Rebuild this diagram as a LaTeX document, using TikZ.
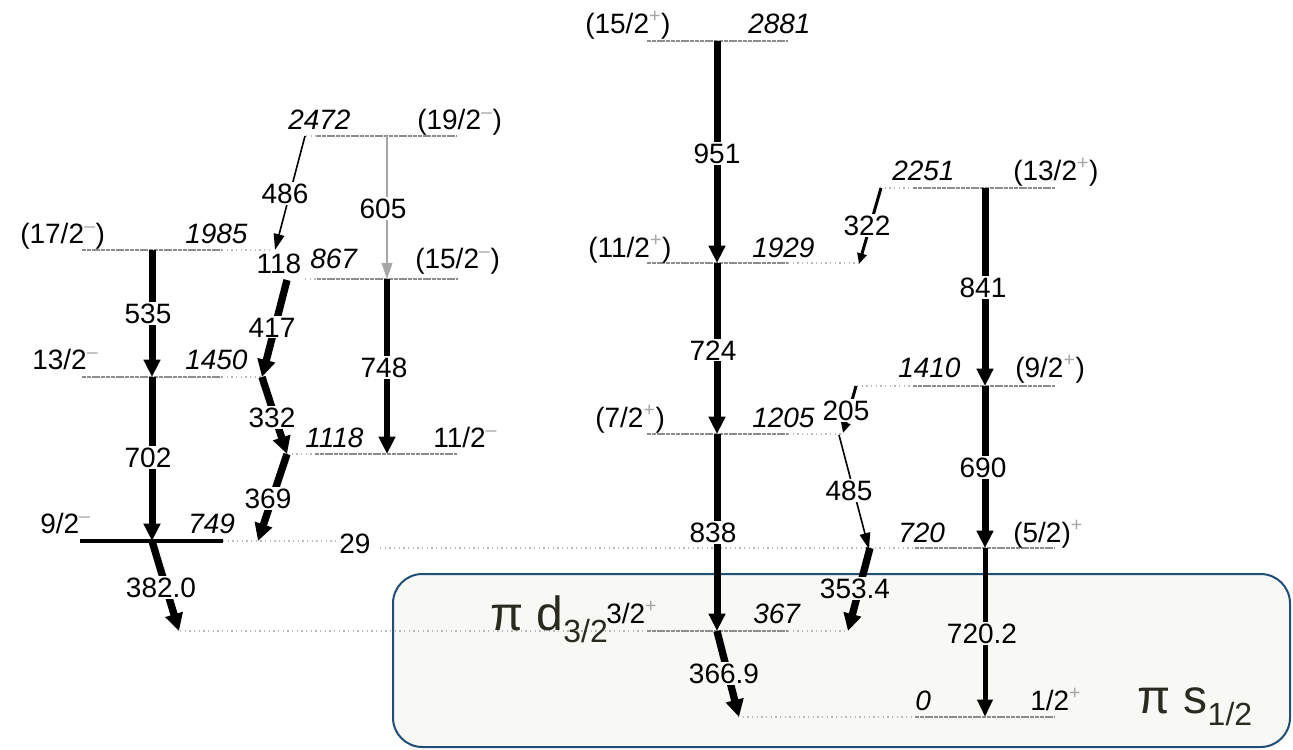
\documentclass[tikz,border=0pt]{standalone}
\usepackage{fontspec}
\setmainfont{Liberation Sans}
\usetikzlibrary{arrows.meta}
\definecolor{boxfill}{HTML}{F8F9F5}
\definecolor{boxline}{HTML}{1F4E79}
\definecolor{bigtxt}{HTML}{2A2A20}
\definecolor{lvl}{HTML}{8C8C8C}
\newcommand\plusup{\textsuperscript{\color{gray!70}+}}
\newcommand\minusup{\textsuperscript{\color{gray!70}–}}
\begin{document}
\begin{tikzpicture}[x=0.75pt,y=-0.75pt,
  every node/.style={font=\fontsize{21}{24}\selectfont, inner sep=0pt},
  lv/.style={draw=lvl, line width=2pt, dash pattern=on 3pt off 0.6pt},
  ext/.style={draw=gray!55, line width=1.2pt, dash pattern=on 0.9pt off 2.6pt},
  tr/.style={line width=5.25pt, -{Triangle[length=13pt,width=12pt]}},
  trs/.style={line width=5.5pt, -{Triangle[length=13pt,width=13pt]}},
  trm/.style={line width=3.75pt, -{Triangle[length=13pt,width=11pt]}},
  trn/.style={line width=2.25pt, -{Triangle[length=8pt,width=7pt]}},
  trt/.style={line width=1.2pt, -{Triangle[length=12pt,width=8pt]}},
  lab/.style={fill=white, inner sep=1pt, anchor=base},
  labb/.style={fill=boxfill, inner sep=1pt, anchor=base},
  en/.style={font=\fontsize{21}{24}\selectfont\itshape, anchor=base west},
  spn/.style={anchor=base west},
  big/.style={anchor=base west, text=bigtxt, font=\fontsize{36}{40}\selectfont},
]
\useasboundingbox (0,0) rectangle (1293,750);
% highlighted region
\draw[draw=boxline, fill=boxfill, line width=1.5pt, rounded corners=22pt] (393,574) rectangle (1290,747);

% levels
\draw[lv] (82,250) -- (222,250); \draw[ext] (222,250) -- (273,250);
\draw[lv] (82,377) -- (222,377); \draw[ext] (222,377) -- (262,377);
\draw[line width=3pt] (80,541) -- (223,541); \draw[ext] (223,541) -- (337,541);
\draw[ext] (306,136) -- (317,136); \draw[lv] (317,136) -- (457,136);
\draw[ext] (305,279) -- (317,279); \draw[lv] (317,279) -- (458,279);
\draw[ext] (287,454) -- (315,454); \draw[lv] (315,454) -- (457,454);
\draw[lv] (647,41) -- (788,41);
\draw[lv] (647,263) -- (788,263); \draw[ext] (788,263) -- (860,263);
\draw[lv] (647,434) -- (788,434); \draw[ext] (788,434) -- (842,434);
\draw[ext] (180,631) -- (647,631); \draw[lv] (647,631) -- (788,631); \draw[ext] (788,631) -- (848,631);
\draw[ext] (738,717) -- (915,717); \draw[lv] (915,717) -- (1055,717);
\draw[ext] (880,188) -- (913,188); \draw[lv] (913,188) -- (1055,188);
\draw[ext] (857,386) -- (913,386); \draw[lv] (913,386) -- (1055,386);
\draw[ext] (380,548) -- (915,548); \draw[lv] (915,548) -- (1055,548);

% transition end points
\coordinate (s1985) at (152,250);
\coordinate (s1450) at (152,377);
\coordinate (s749) at (152,541);
\coordinate (e382) at (179,631);
\coordinate (s2472a) at (305,136);
\coordinate (e1985) at (275,250);
\coordinate (s2472b) at (387,136);
\coordinate (s1867b) at (387,279);
\coordinate (s1118b) at (387,454);
\coordinate (s1867a) at (287,280);
\coordinate (s1450a) at (262,377);
\coordinate (s1118a) at (287,454);
\coordinate (s749a) at (258,541);
\coordinate (s2881) at (717,41);
\coordinate (s1929) at (717,263);
\coordinate (s1205) at (717,434);
\coordinate (s367) at (717,631);
\coordinate (e0) at (739,717);
\coordinate (s2251a) at (881,188);
\coordinate (e1929) at (859,264);
\coordinate (s1410a) at (856,386);
\coordinate (e1205) at (843,433);
\coordinate (s1205a) at (839,435);
\coordinate (e720a) at (869,549);
\coordinate (s720a) at (870,548);
\coordinate (e367a) at (848,631);
\coordinate (s2251) at (985,188);
\coordinate (s1410) at (985,386);
\coordinate (s720) at (985,548);
\coordinate (s0) at (985,717);

% transitions
\draw[tr] (s1985) -- (s1450);
\draw[tr] (s1450) -- (s749);
\draw[trs] (s749) -- (e382);
\draw[trt] (s2472a) -- (e1985);
\draw[trt, draw=gray!70, fill=gray!70] (s2472b) -- (s1867b);
\draw[tr, line width=5pt] (s1867b) -- (s1118b);
\draw[trs] (s1867a) -- (s1450a);
\draw[trs] (s1450a) -- (s1118a);
\draw[trs] (s1118a) -- (s749a);
\draw[tr] (s2881) -- (s1929);
\draw[tr] (s1929) -- (s1205);
\draw[tr] (s1205) -- (s367);
\draw[trs] (s367) -- (e0);
\draw[trn] (s2251a) -- (e1929);
\draw[trn] (s1410a) -- (e1205);
\draw[trt] (s1205a) -- (e720a);
\draw[trs] (s720a) -- (e367a);
\draw[tr] (s2251) -- (s1410);
\draw[tr] (s1410) -- (s720);
\draw[trm] (s720) -- (s0);

% transition energies
\node[lab] (l535) at (148,323) {535};
\node[lab] (l702) at (148,467) {702};
\node[lab] (l382) at (161,597) {382.0};
\node[lab] (l486) at (285,203) {486};
\node[lab] (l605) at (383,218) {605};
\node[lab] (l118) at (279,273) {118};
\node[lab] (l417) at (272,337) {417};
\node[lab] (l748) at (384,377) {748};
\node[lab] (l332) at (272,427) {332};
\node[lab] (l369) at (268,508) {369};
\node[lab] (l29) at (355,553) {29};
\node[lab] (l951) at (717,163) {951};
\node[lab] (l724) at (713,360) {724};
\node[lab] (l838) at (713,542) {838};
\node[lab] (l322) at (867,235) {322};
\node[lab] (l205) at (846,420) {205};
\node[lab] (l485) at (849,500) {485};
\node[lab] (l841) at (983,297) {841};
\node[lab] (l690) at (983,477) {690};
\node[labb] (l7202) at (982,643) {720.2};
\node[labb] (l3669) at (724,683) {366.9};
\node[labb] (l3534) at (855,598) {353.4};

% level energies
\node[en] (n2472) at (288,129) {2472};
\node[en] (n1985) at (185,243) {1985};
\node[en] (n1450) at (185,369) {1450};
\node[en] (n749) at (188,533) {749};
\node[en] (n867) at (310,268) {867};
\node[en] (n1118) at (305,447) {1118};
\node[en] (n2881) at (748,33) {2881};
\node[en] (n1929) at (752,257) {1929};
\node[en] (n1205) at (752,427) {1205};
\node[en] (n367) at (753,623) {367};
\node[en] (n2251) at (892,180) {2251};
\node[en] (n1410) at (898,377) {1410};
\node[en] (n720) at (898,542) {720};
\node[en] (n0) at (915,710) {0};

% spins
\node[spn] (j2472) at (417,129) {(19/2\minusup)};
\node[spn] (j1985) at (20,243) {(17/2\minusup)};
\node[spn] (j1450) at (32,369) {13/2\minusup};
\node[spn] (j749) at (40,533) {9/2\minusup};
\node[spn] (j1867) at (415,268) {(15/2\minusup)};
\node[spn] (j1118) at (433,447) {11/2\minusup};
\node[spn] (j2881) at (585,33) {(15/2\plusup)};
\node[spn] (j1929) at (588,257) {(11/2\plusup)};
\node[spn] (j1205) at (595,427) {(7/2\plusup)};
\node[spn] (j367) at (606,623) {3/2\plusup};
\node[spn] (j2251) at (1013,180) {(13/2\plusup)};
\node[spn] (j1410) at (1015,377) {(9/2\plusup)};
\node[spn] (j720) at (1013,542) {(5/2)\plusup};
\node[spn] (j0) at (1030,710) {1/2\plusup};

% orbital labels
\node[big] (pid) at (490,630) {π d\raisebox{-9pt}{\fontsize{24}{26}\selectfont 3/2}};
\node[big] (pis) at (1137,713) {π s\raisebox{-9pt}{\fontsize{24}{26}\selectfont 1/2}};
\end{tikzpicture}
\end{document}
